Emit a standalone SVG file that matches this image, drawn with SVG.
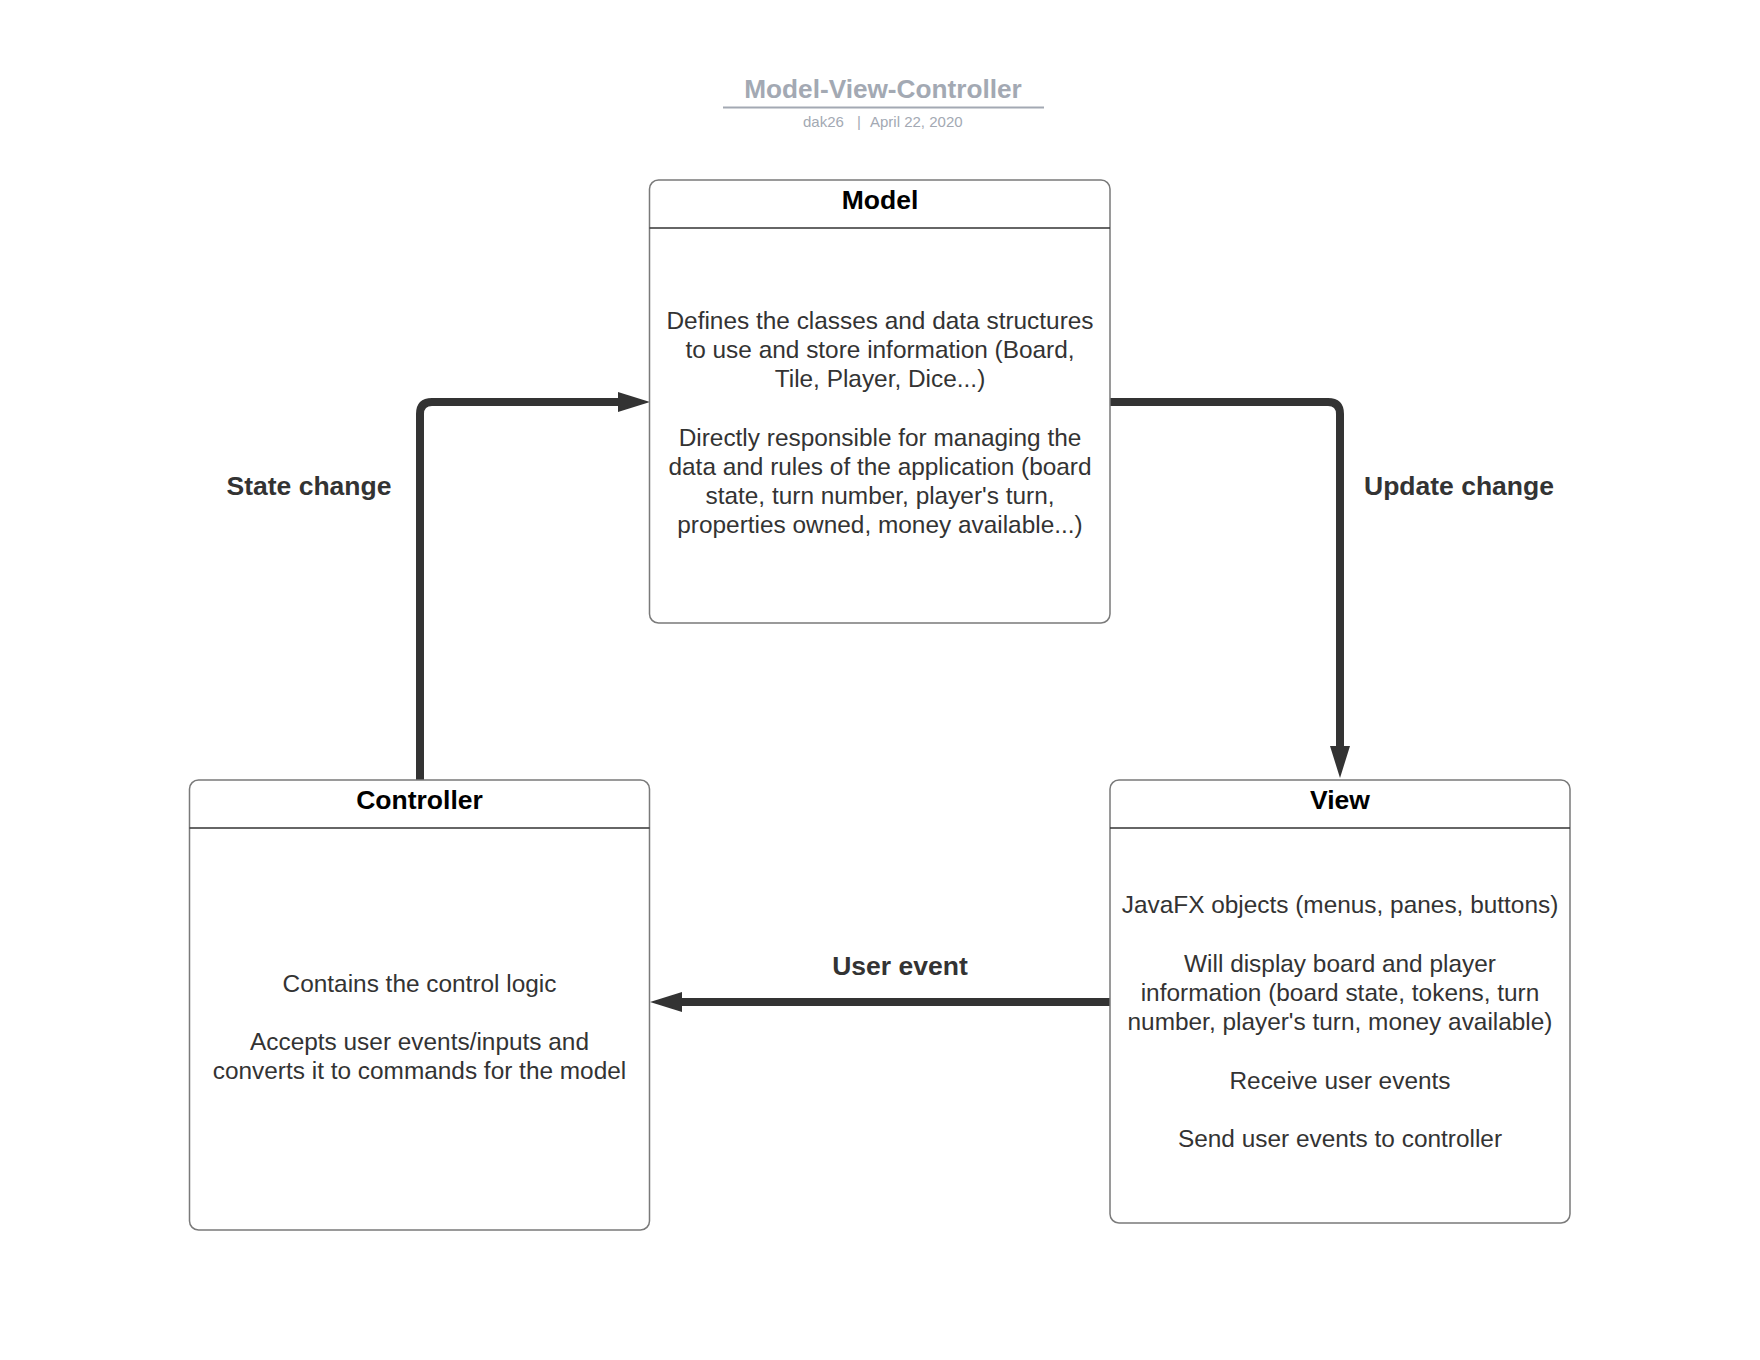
<svg xmlns="http://www.w3.org/2000/svg" width="1760" height="1360" viewBox="0 0 1760 1360">
  <style>
    .box { fill: #ffffff; stroke: #7a7a7a; stroke-width: 1.5; }
    .divider { stroke: #333333; stroke-width: 1.3; }
    .head { font-family: "Liberation Sans", Arial, sans-serif; font-weight: bold; font-size: 26.5px; fill: #000000; text-anchor: middle; }
    .body { font-family: "Liberation Sans", Arial, sans-serif; font-size: 24.4px; fill: #333333; text-anchor: middle; }
    .label { font-family: "Liberation Sans", Arial, sans-serif; font-weight: bold; font-size: 26.5px; fill: #333333; text-anchor: middle; }
    .wire { fill: none; stroke: #333333; stroke-width: 8; stroke-linejoin: round; }
    .title { font-family: "Liberation Sans", Arial, sans-serif; font-weight: bold; font-size: 26.2px; fill: #a3a9b3; text-anchor: middle; }
    .meta { font-family: "Liberation Sans", Arial, sans-serif; font-size: 15px; fill: #a3a9b3; }
  </style>
  <defs>
    <marker id="arrow" markerUnits="userSpaceOnUse" markerWidth="34" markerHeight="22" refX="0" refY="11" orient="auto">
      <path d="M0,1 L32,11 L0,21 Z" fill="#333333"/>
    </marker>
  </defs>

  <rect width="1760" height="1360" fill="#ffffff"/>

  <!-- document title block -->
  <g id="title">
    <text class="title" x="883" y="97.5">Model-View-Controller</text>
    <line x1="723" y1="107.5" x2="1044" y2="107.5" stroke="#a3a9b3" stroke-width="2"/>
    <text class="meta" x="803" y="127">dak26</text>
    <text class="meta" x="857" y="127">|</text>
    <text class="meta" x="870" y="127">April 22, 2020</text>
  </g>

  <!-- connectors -->
  <g id="connectors">
    <path class="wire" d="M420,780 L420,414 Q420,402 432,402 L618,402" marker-end="url(#arrow)"/>
    <path class="wire" d="M1110,402 L1328,402 Q1340,402 1340,414 L1340,746" marker-end="url(#arrow)"/>
    <path class="wire" d="M1110,1002 L682,1002" marker-end="url(#arrow)"/>
    <text class="label" x="309" y="495">State change</text>
    <text class="label" x="1459" y="495">Update change</text>
    <text class="label" x="900" y="975">User event</text>
  </g>

  <!-- Model -->
  <g id="model">
    <rect class="box" x="649.5" y="180" width="460.5" height="443" rx="9"/>
    <line class="divider" x1="649.5" y1="228" x2="1110" y2="228"/>
    <text class="head" x="880" y="209">Model</text>
    <text class="body" x="880" y="329">Defines the classes and data structures</text>
    <text class="body" x="880" y="358.2">to use and store information (Board,</text>
    <text class="body" x="880" y="387.4">Tile, Player, Dice...)</text>
    <text class="body" x="880" y="445.8">Directly responsible for managing the</text>
    <text class="body" x="880" y="475">data and rules of the application (board</text>
    <text class="body" x="880" y="504.2">state, turn number, player's turn,</text>
    <text class="body" x="880" y="533.4">properties owned, money available...)</text>
  </g>

  <!-- Controller -->
  <g id="controller">
    <rect class="box" x="189.5" y="780" width="460" height="450" rx="9"/>
    <line class="divider" x1="189.5" y1="828" x2="649.5" y2="828"/>
    <text class="head" x="419.5" y="809">Controller</text>
    <text class="body" x="419.5" y="991.5">Contains the control logic</text>
    <text class="body" x="419.5" y="1050">Accepts user events/inputs and</text>
    <text class="body" x="419.5" y="1079.2">converts it to commands for the model</text>
  </g>

  <!-- View -->
  <g id="view">
    <rect class="box" x="1110" y="780" width="460" height="443" rx="9"/>
    <line class="divider" x1="1110" y1="828" x2="1570" y2="828"/>
    <text class="head" x="1340" y="809">View</text>
    <text class="body" x="1340" y="913.3">JavaFX objects (menus, panes, buttons)</text>
    <text class="body" x="1340" y="971.7">Will display board and player</text>
    <text class="body" x="1340" y="1000.9">information (board state, tokens, turn</text>
    <text class="body" x="1340" y="1030.1">number, player's turn, money available)</text>
    <text class="body" x="1340" y="1088.5">Receive user events</text>
    <text class="body" x="1340" y="1147">Send user events to controller</text>
  </g>
</svg>
